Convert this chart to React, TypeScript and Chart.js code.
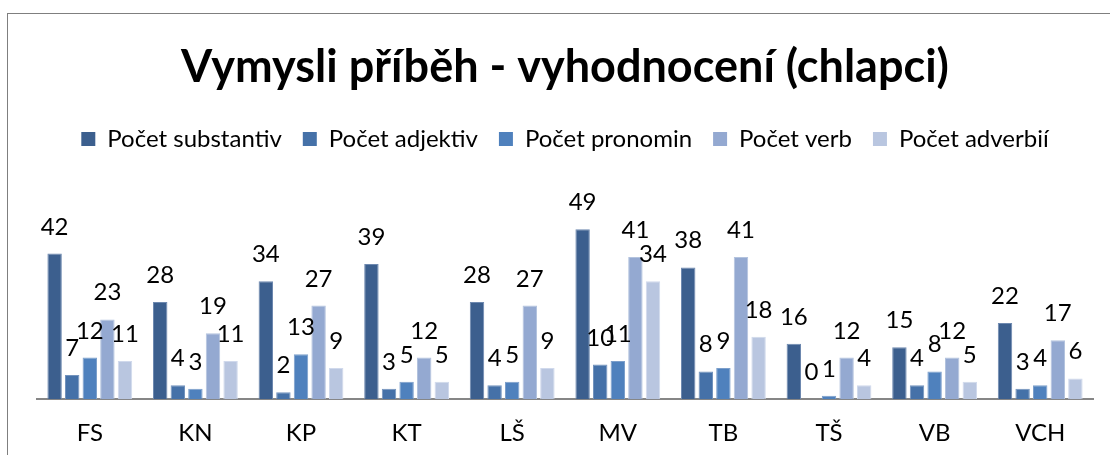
import React, { useEffect, useRef } from "react";
import { Chart, registerables } from "chart.js";

Chart.register(...registerables);

const categories = ["FS", "KN", "KP", "KT", "LŠ", "MV", "TB", "TŠ", "VB", "VCH"];
const seriesNames = ["Počet substantiv", "Počet adjektiv", "Počet pronomin", "Počet verb", "Počet adverbií"];
const substantiv = [42, 28, 34, 39, 28, 49, 38, 16, 15, 22];
const adjektiv = [7, 4, 2, 3, 4, 10, 8, 0, 4, 3];
const pronomin = [12, 3, 13, 5, 5, 11, 9, 1, 8, 4];
const verb = [23, 19, 27, 12, 27, 41, 41, 12, 12, 17];
const adverbii = [11, 11, 9, 5, 9, 34, 18, 4, 5, 6];
const seriesValues = [substantiv, adjektiv, pronomin, verb, adverbii];
const fills = ["#3C5F8E", "#4571A8", "#4F81BD", "#94A9D1", "#B9C6E0"];
const borders = ["#6E89B0", "#7393BD", "#7C9FCB", "#B3C3DE", "#D0D9EC"];

const FONT = "Lato, 'Open Sans', sans-serif";

const labelPlugin = {
  id: "barLabels",
  afterDatasetsDraw(chart: any) {
    const ctx = chart.ctx;
    ctx.save();
    ctx.font = `24px ${FONT}`;
    ctx.fillStyle = "#000";
    ctx.textAlign = "center";
    ctx.textBaseline = "alphabetic";
    chart.data.datasets.forEach((ds: any, i: number) => {
      const meta = chart.getDatasetMeta(i);
      meta.data.forEach((bar: any, j: number) => {
        ctx.fillText(String(ds.data[j]), bar.x, bar.y - 19);
      });
    });
    ctx.restore();
  },
};

export default function App() {
  const ref = useRef<HTMLCanvasElement>(null);
  useEffect(() => {
    if (!ref.current) return;
    const chart = new Chart(ref.current, {
      type: "bar",
      data: {
        labels: categories,
        datasets: seriesNames.map((name, i) => ({
          label: name,
          data: seriesValues[i],
          backgroundColor: fills[i],
          borderColor: borders[i],
          borderWidth: 1,
          categoryPercentage: 0.833,
          barPercentage: 0.82,
        })),
      },
      options: {
        animation: false,
        responsive: false,
        devicePixelRatio: 1,
        layout: { padding: { left: 37, right: 17, top: 40, bottom: -13 } },
        plugins: {
          title: {
            display: true,
            text: "Vymysli příběh - vyhodnocení (chlapci)",
            color: "#000",
            font: { family: FONT, size: 45, weight: "bold" },
            padding: { top: 0, bottom: 12 },
          },
          legend: {
            position: "top",
            labels: {
              color: "#000",
              font: { family: FONT, size: 24 },
              boxWidth: 14,
              boxHeight: 14,
              padding: 21,
              generateLabels: (chart: any) =>
                chart.data.datasets.map((ds: any, i: number) => ({
                  text: ds.label,
                  fillStyle: fills[i],
                  strokeStyle: fills[i],
                  lineWidth: 0,
                  datasetIndex: i,
                  hidden: false,
                })),
            },
          },
          tooltip: { enabled: false },
        },
        scales: {
          x: {
            grid: { display: false, drawTicks: false },
            border: { display: true, color: "#868686", width: 2 },
            ticks: { color: "#000", font: { family: FONT, size: 24 }, padding: 20 },
          },
          y: {
            display: false,
            min: 0,
            max: 68.7,
          },
        },
      },
      plugins: [labelPlugin],
    });
    return () => chart.destroy();
  }, []);
  return (
    <div style={{ position: "fixed", left: 0, top: 0, width: 1110, height: 455, background: "#fff" }}>
      <canvas ref={ref} width={1110} height={455} style={{ position: "absolute", left: 0, top: 0 }} />
      <div
        style={{
          position: "absolute",
          left: 7,
          top: 13,
          width: 1110,
          height: 460,
          borderLeft: "1px solid #7f7f7f",
          borderTop: "1px solid #7f7f7f",
          pointerEvents: "none",
        }}
      />
    </div>
  );
}
